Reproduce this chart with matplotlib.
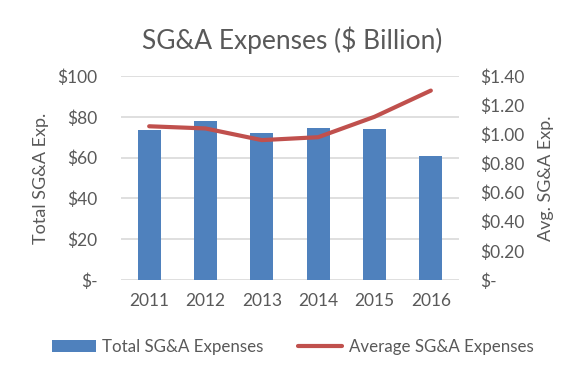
import matplotlib.pyplot as plt
import numpy as np

# data
years = ['2011', '2012', '2013', '2014', '2015', '2016']
total_sga = [73.5, 78.0, 72.0, 74.5, 74.0, 61.0]          # $ billion
avg_sga = [1.055, 1.04, 0.96, 0.98, 1.12, 1.30]           # $ billion

plt.rcParams['font.family'] = ['Lato', 'DejaVu Sans']
txt = '#595959'

fig = plt.figure(figsize=(5.85, 3.77), dpi=100)
ax = fig.add_axes([121/585, 1-280/377, (459-121)/585, 204/377])
ax2 = ax.twinx()

x = np.arange(len(years))
ax.bar(x, total_sga, width=0.41, color='#4F81BD', label='Total SG&A Expenses', zorder=2)
ax2.plot(x, avg_sga, color='#C0504D', lw=3, solid_capstyle='round',
         label='Average SG&A Expenses', zorder=3)

ax.set_xlim(-0.5, 5.5)
ax.set_ylim(0, 100)
ax2.set_ylim(0, 1.4)
ax.set_yticks(range(0, 101, 20))
ax.set_yticklabels(['$-'] + ['$%d' % v for v in range(20, 101, 20)])
ax2.set_yticks(np.arange(0, 1.41, 0.2))
ax2.set_yticklabels(['$-'] + ['$%.2f' % v for v in np.arange(0.2, 1.41, 0.2)])
ax.set_xticks(x)
ax.set_xticklabels(years)

ax.grid(axis='y', color='#D9D9D9', lw=1.2, zorder=0)
ax.set_axisbelow(True)
for a in (ax, ax2):
    for s in a.spines.values():
        s.set_visible(False)
    a.tick_params(length=0, colors=txt, labelsize=12.5)
ax.tick_params(axis='y', pad=17)
ax2.tick_params(axis='y', pad=15)
ax.tick_params(axis='x', pad=9)

ax.set_ylabel('Total SG&A Exp.', color=txt, fontsize=13, labelpad=6)
ax2.set_ylabel('Avg. SG&A Exp.', color=txt, fontsize=13, labelpad=10)

fig.text(0.5, 1-40/377, 'SG&A Expenses ($ Billion)', ha='center', va='center',
         fontsize=19, color=txt)

h1, l1 = ax.get_legend_handles_labels()
h2, l2 = ax2.get_legend_handles_labels()
fig.legend(h1 + h2, l1 + l2, loc='center', bbox_to_anchor=(0.5, 1-347/377),
           ncol=2, frameon=False, fontsize=12.2, labelcolor=txt,
           handlelength=2.6, handletextpad=0.4, columnspacing=2.0)

fig.savefig('out.png', dpi=100)
